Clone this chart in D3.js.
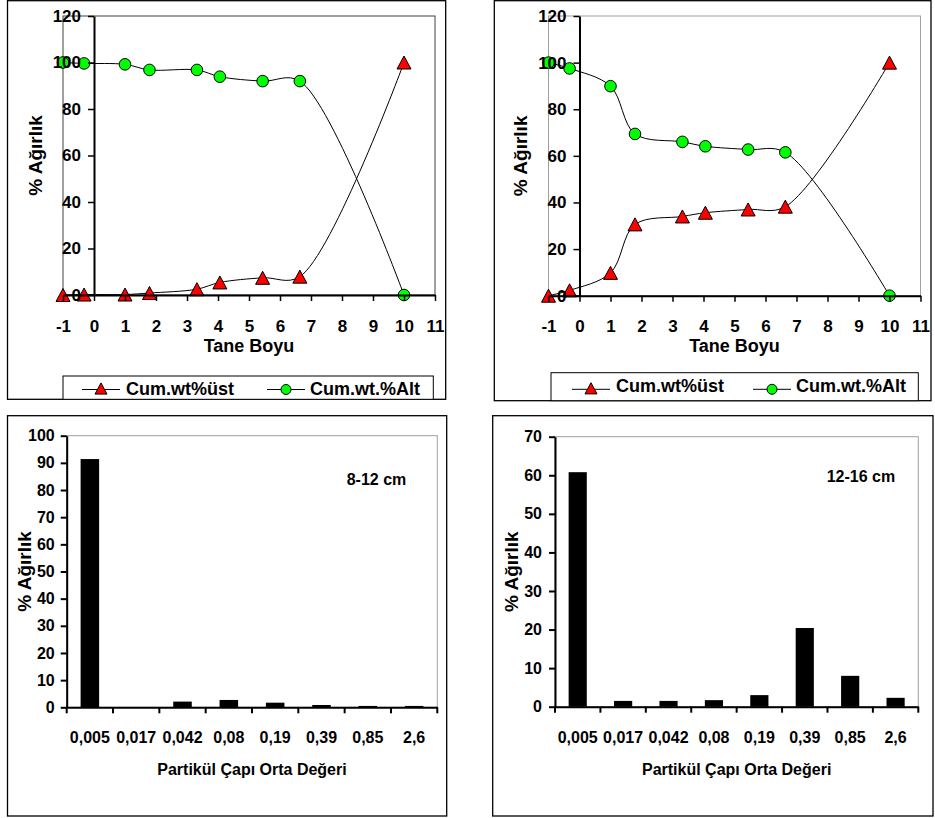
<!DOCTYPE html>
<html>
<head>
<meta charset="utf-8">
<script src="https://cdn.jsdelivr.net/npm/d3@7"></script>
<style>
  html, body { margin: 0; padding: 0; background: #fff; }
  svg { display: block; }
  text { font-family: "Liberation Sans", Arial, sans-serif; font-weight: bold; fill: #000; }
</style>
</head>
<body>
<svg id="chart" width="935" height="818"></svg>
<script>
// ---------- DATA ----------
const taneBoyu = [-1, -0.32, 1, 1.79, 3.32, 4.06, 5.44, 6.64, 10];
const xTicks = [-1, 0, 1, 2, 3, 4, 5, 6, 7, 8, 9, 10, 11];
const yTicksTop = [0, 20, 40, 60, 80, 100, 120];

const tlUst = [0, 0.2, 0.2, 0.85, 2.5, 5.4, 7.4, 7.9, 100];
const tlAlt = [100, 99.6, 99.2, 96.8, 96.8, 93.9, 92.0, 92.0, 0];
const trUst = [0, 2.3, 9.8, 30.6, 34.0, 35.6, 37.0, 38.2, 100];
const trAlt = [100, 97.5, 89.9, 69.4, 66.0, 64.1, 62.7, 61.5, 0];

const legendUst = "Cum.wt%üst";
const legendAlt = "Cum.wt.%Alt";

const sizeCats = ["0,005", "0,017", "0,042", "0,08", "0,19", "0,39", "0,85", "2,6"];
const blVals = [91.4, 0.1, 2.1, 2.7, 1.7, 0.85, 0.5, 0.5];
const brVals = [60.8, 1.5, 1.5, 1.7, 3.0, 20.4, 8.0, 2.3];
const blTicks = [0, 10, 20, 30, 40, 50, 60, 70, 80, 90, 100];
const brTicks = [0, 10, 20, 30, 40, 50, 60, 70];

const svg = d3.select("#chart");
svg.append("rect").attr("width", 935).attr("height", 818).attr("fill", "#fff");

function frame(x0, y0, x1, y1) {
  svg.append("rect").attr("x", x0).attr("y", y0).attr("width", x1 - x0).attr("height", y1 - y0)
    .attr("fill", "none").attr("stroke", "#000").attr("stroke-width", 1.3);
}

function triPath(s) {
  const h = s * 0.93;
  return `M0,${-h/2}L${s/2},${h/2}L${-s/2},${h/2}Z`;
}

// ---------- line panels ----------
function linePanel(o) {
  frame(o.frame[0], o.frame[1], o.frame[2], o.frame[3]);
  const x = d3.scaleLinear().domain([-1, 11]).range([o.left, o.right]);
  const y = d3.scaleLinear().domain([0, 120]).range([o.bottom, o.top]);
  const g = svg.append("g");

  g.append("rect").attr("x", o.left).attr("y", o.top).attr("width", o.right - o.left)
    .attr("height", o.bottom - o.top).attr("fill", "none").attr("stroke", o.border).attr("stroke-width", 1);

  const line = d3.line().x((d, i) => x(taneBoyu[i])).y(d => y(d)).curve(d3.curveCatmullRom.alpha(0.5));
  g.append("path").attr("d", line(o.ust)).attr("fill", "none").attr("stroke", "#000").attr("stroke-width", 1);
  g.append("path").attr("d", line(o.alt)).attr("fill", "none").attr("stroke", "#000").attr("stroke-width", 1);

  g.selectAll(".alt").data(o.alt).enter().append("circle")
    .attr("cx", (d, i) => x(taneBoyu[i])).attr("cy", d => y(d)).attr("r", 5.8)
    .attr("fill", "#00ff00").attr("stroke", "#000").attr("stroke-width", 1);
  g.selectAll(".ust").data(o.ust).enter().append("path")
    .attr("d", triPath(14))
    .attr("transform", (d, i) => `translate(${x(taneBoyu[i])},${y(d)})`)
    .attr("fill", "#ff0000").attr("stroke", "#000").attr("stroke-width", 1);

  const xa = g.append("g").attr("transform", `translate(0,${o.bottom})`)
    .call(d3.axisBottom(x).tickValues(xTicks).tickSize(6).tickSizeOuter(0).tickFormat(d => String(d)));
  xa.select(".domain").attr("stroke-width", 2);
  xa.selectAll(".tick line").attr("stroke-width", 1.5);
  xa.selectAll("text").attr("font-size", 17).attr("font-family", "Liberation Sans, Arial, sans-serif")
    .attr("font-weight", "bold").attr("y", 0).attr("dy", 0).attr("transform", "translate(0,36.5)");

  const ya = g.append("g").attr("transform", `translate(${x(0)},0)`)
    .call(d3.axisLeft(y).tickValues(yTicksTop).tickSize(6).tickSizeOuter(0).tickPadding(7));
  ya.select(".domain").attr("stroke-width", 2);
  ya.selectAll(".tick line").attr("stroke-width", 1.5);
  ya.selectAll("text").attr("font-size", 17).attr("font-family", "Liberation Sans, Arial, sans-serif")
    .attr("font-weight", "bold");

  g.append("text").attr("x", (o.left + o.right) / 2).attr("y", o.bottom + 56.5)
    .attr("text-anchor", "middle").attr("font-size", 18).text("Tane Boyu");
  g.append("text").attr("transform", `translate(${o.ytX},${(o.top + o.bottom) / 2}) rotate(-90)`)
    .attr("text-anchor", "middle").attr("font-size", 19).text("% Ağırlık");

  const L = o.legend;
  g.append("rect").attr("x", L.x0).attr("y", L.y0).attr("width", L.x1 - L.x0).attr("height", L.y1 - L.y0)
    .attr("fill", "#fff").attr("stroke", "#000").attr("stroke-width", 1);
  const ly = L.ly;
  g.append("line").attr("x1", L.i1).attr("x2", L.i1 + 38).attr("y1", ly).attr("y2", ly).attr("stroke", "#000");
  g.append("path").attr("d", triPath(12)).attr("transform", `translate(${L.i1 + 19},${ly - 1})`)
    .attr("fill", "#ff0000").attr("stroke", "#000");
  g.append("text").attr("x", L.i1 + 44).attr("y", L.tb).attr("font-size", 18).text(legendUst);
  g.append("line").attr("x1", L.i2).attr("x2", L.i2 + 38).attr("y1", ly).attr("y2", ly).attr("stroke", "#000");
  g.append("circle").attr("cx", L.i2 + 19).attr("cy", ly).attr("r", 5)
    .attr("fill", "#00ff00").attr("stroke", "#000");
  g.append("text").attr("x", L.i2 + 43).attr("y", L.tb).attr("font-size", 18).text(legendAlt);
}

linePanel({
  frame: [7.5, 0.7, 445.7, 399.3],
  left: 63, right: 435, top: 16, bottom: 295,
  border: "#404040",
  ust: tlUst, alt: tlAlt, ytX: 42,
  legend: { x0: 63, y0: 376, x1: 433.3, y1: 399.3, ly: 389.5, tb: 395, i1: 82, i2: 267 }
});
linePanel({
  frame: [494.3, 0.7, 931, 400.7],
  left: 548.5, right: 920.5, top: 16, bottom: 295.7,
  border: "#a0a0a0",
  ust: trUst, alt: trAlt, ytX: 527,
  legend: { x0: 551, y0: 372.7, x1: 918.3, y1: 400.7, ly: 389.3, tb: 392, i1: 572, i2: 753 }
});

// ---------- bar panels ----------
function barPanel(o) {
  frame(o.frame[0], o.frame[1], o.frame[2], o.frame[3]);
  const x = d3.scaleBand().domain(sizeCats).range([o.left, o.right]).paddingInner(0.6).paddingOuter(0.3);
  const y = d3.scaleLinear().domain([0, o.ymax]).range([o.bottom, o.top]);
  const g = svg.append("g");
  g.append("rect").attr("x", o.left).attr("y", o.top).attr("width", o.right - o.left)
    .attr("height", o.bottom - o.top).attr("fill", "none").attr("stroke", "#a0a0a0").attr("stroke-width", 1);

  g.selectAll(".bar").data(o.vals).enter().append("rect")
    .attr("x", (d, i) => x(sizeCats[i])).attr("width", x.bandwidth())
    .attr("y", d => y(d)).attr("height", d => y(0) - y(d)).attr("fill", "#000");

  const step = x.step();
  const xa = g.append("g").attr("transform", `translate(0,${o.bottom})`)
    .call(d3.axisBottom(x).tickSize(0).tickSizeOuter(0));
  xa.select(".domain").attr("stroke-width", 2);
  xa.selectAll("text").attr("font-size", 16).attr("font-family", "Liberation Sans, Arial, sans-serif")
    .attr("font-weight", "bold").attr("y", 0).attr("dy", 0).attr("transform", "translate(0,36)");
  const edges = sizeCats.map(c => x(c) - step * 0.3).concat([o.right]);
  g.selectAll(".edge").data(edges).enter().append("line")
    .attr("x1", d => d).attr("x2", d => d).attr("y1", o.bottom).attr("y2", o.bottom + 6)
    .attr("stroke", "#000").attr("stroke-width", 2);

  const ya = g.append("g").attr("transform", `translate(${o.left},0)`)
    .call(d3.axisLeft(y).tickValues(o.ticks).tickSize(6).tickSizeOuter(0).tickPadding(o.tpad));
  ya.select(".domain").attr("stroke-width", 2);
  ya.selectAll(".tick line").attr("stroke-width", 2);
  ya.selectAll("text").attr("font-size", 16).attr("font-family", "Liberation Sans, Arial, sans-serif")
    .attr("font-weight", "bold");

  g.append("text").attr("x", (o.left + o.right) / 2).attr("y", o.bottom + 68)
    .attr("text-anchor", "middle").attr("font-size", 16).text("Partikül Çapı Orta Değeri");
  g.append("text").attr("transform", `translate(${o.ytX},${(o.top + o.bottom) / 2}) rotate(-90)`)
    .attr("text-anchor", "middle").attr("font-size", 19).text("% Ağırlık");
  g.append("text").attr("x", o.lab[0]).attr("y", o.lab[1]).attr("font-size", 16).text(o.label);
}

barPanel({
  frame: [7.5, 415.7, 446.7, 816],
  left: 66.7, right: 437.3, top: 435.7, bottom: 707.3,
  ymax: 100, ticks: blTicks, vals: blVals, tpad: 6, ytX: 31,
  label: "8-12 cm", lab: [346.7, 485]
});
barPanel({
  frame: [492.7, 415.7, 933, 816],
  left: 555, right: 918.3, top: 436.7, bottom: 706.7,
  ymax: 70, ticks: brTicks, vals: brVals, tpad: 7, ytX: 518,
  label: "12-16 cm", lab: [826.7, 482]
});
</script>
</body>
</html>
